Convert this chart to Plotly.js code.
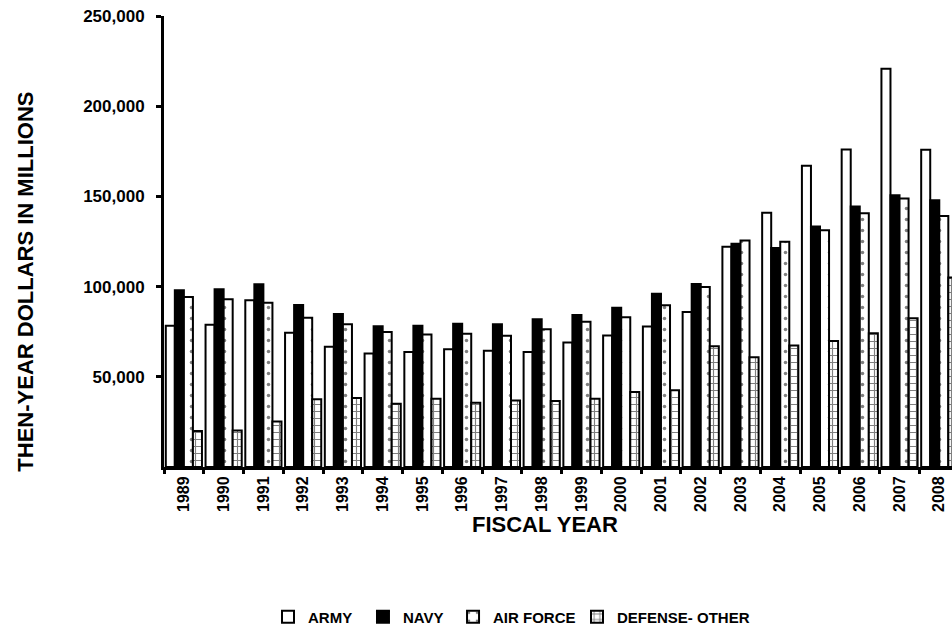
<!DOCTYPE html>
<html>
<head>
<meta charset="utf-8">
<script src="https://cdn.plot.ly/plotly-3.0.1.min.js"></script>
<style>
  html, body { margin: 0; padding: 0; background: #ffffff; }
  #chart { width: 952px; height: 626px; }
</style>
</head>
<body>
<div id="chart"></div>
<script>
// ---- data (then-year dollars in millions) ----
var years = ['1989','1990','1991','1992','1993','1994','1995','1996','1997','1998',
             '1999','2000','2001','2002','2003','2004','2005','2006','2007','2008'];
var army = [78300, 78900, 92400, 74400, 66600, 62900, 63800, 65300, 64400, 63700,
            69000, 72900, 77950, 85900, 122100, 141000, 167000, 176000, 220700, 175800];
var navy = [98000, 98550, 101300, 89800, 84800, 78000, 78300, 79400, 79100, 81900,
            84300, 88300, 96100, 101500, 123800, 121400, 133300, 144400, 150700, 147900];
var airForce = [94300, 93000, 91100, 82800, 79100, 74800, 73500, 73900, 72700, 76300,
                80500, 83000, 89600, 99800, 125500, 124900, 131200, 140700, 148900, 139200];
var defenseOther = [19900, 20200, 25200, 37500, 38200, 35100, 37900, 35600, 36900, 36600,
                    37900, 41600, 42500, 67000, 60900, 67400, 69800, 74200, 82400, 105100];
var yTicks = [50000, 100000, 150000, 200000, 250000];

var FONT = 'Liberation Sans, Arial, Helvetica, sans-serif';
var lineStyle = {color: '#000000', width: 2};

var traces = [
  {type: 'bar', name: 'ARMY', x: years, y: army, legend: 'legend',
   marker: {color: '#ffffff', line: lineStyle}},
  {type: 'bar', name: 'NAVY', x: years, y: navy, legend: 'legend2',
   marker: {color: '#000000', line: lineStyle}},
  {type: 'bar', name: 'AIR FORCE', x: years, y: airForce, legend: 'legend3',
   marker: {color: '#ffffff', line: lineStyle,
            pattern: {shape: '.', size: 11, solidity: 0.08, fgcolor: '#000000', bgcolor: '#ffffff', fillmode: 'overlay'}}},
  {type: 'bar', name: 'DEFENSE- OTHER', x: years, y: defenseOther, legend: 'legend4',
   marker: {color: '#ffffff', line: lineStyle,
            pattern: {shape: '+', size: 7, solidity: 0.3, fgcolor: '#000000', bgcolor: '#ffffff', fillmode: 'overlay'}}}
];

var legendFont = {family: FONT, size: 15, color: '#000000', weight: 'bold'};
function legendAt(xp) {
  return {x: xp, y: -0.3326, xanchor: 'left', yanchor: 'middle', orientation: 'h',
          bgcolor: 'rgba(0,0,0,0)', borderwidth: 0, font: legendFont};
}

var layout = {
  width: 952, height: 626,
  margin: {l: 164, r: 0, t: 16, b: 159, pad: 0, autoexpand: false},
  paper_bgcolor: '#ffffff', plot_bgcolor: '#ffffff',
  barmode: 'group', bargap: 0.09, bargroupgap: 0,
  showlegend: true,
  font: {family: FONT, color: '#000000'},
  xaxis: {
    type: 'category', range: [-0.5, 19.32],
    showline: true, linecolor: '#000000', linewidth: 3,
    showgrid: false, zeroline: false,
    tickson: 'boundaries', ticks: 'outside', ticklen: 4, tickwidth: 3, tickcolor: '#000000',
    tickangle: -90, ticklabelstandoff: 0,
    tickfont: {family: FONT, size: 16, color: '#000000', weight: 'bold'},
    fixedrange: true
  },
  yaxis: {
    range: [0, 250000],
    showline: true, linecolor: '#000000', linewidth: 3,
    showgrid: false, zeroline: false,
    tickmode: 'array', tickvals: yTicks, tickformat: ',d',
    ticks: 'outside', ticklen: 5, tickwidth: 3, tickcolor: '#000000',
    ticklabelstandoff: 8,
    tickfont: {family: FONT, size: 17, color: '#000000', weight: 'bold'},
    fixedrange: true
  },
  yaxis2: {
    overlaying: 'y', side: 'left', anchor: 'x',
    range: [0, 250000], showline: false, showgrid: false, zeroline: false,
    tickmode: 'array', tickvals: yTicks,
    ticks: 'inside', ticklen: 5, tickwidth: 3, tickcolor: '#000000',
    showticklabels: false, fixedrange: true
  },
  legend: legendAt(0.132),
  legend2: legendAt(0.2525),
  legend3: legendAt(0.3668),
  legend4: legendAt(0.5241),
  annotations: [
    {text: 'THEN-YEAR DOLLARS IN MILLIONS', xref: 'paper', yref: 'paper',
     x: -0.1758, y: 0.412, xanchor: 'center', yanchor: 'middle', textangle: -90,
     showarrow: false, font: {family: FONT, size: 22, color: '#000000', weight: 'bold'}},
    {text: 'FISCAL YEAR', xref: 'paper', yref: 'paper',
     x: 0.4835, y: -0.128, xanchor: 'center', yanchor: 'middle',
     showarrow: false, font: {family: FONT, size: 22, color: '#000000', weight: 'bold'}}
  ]
};

Plotly.newPlot('chart', traces, layout, {displayModeBar: false, staticPlot: true});
</script>
</body>
</html>
